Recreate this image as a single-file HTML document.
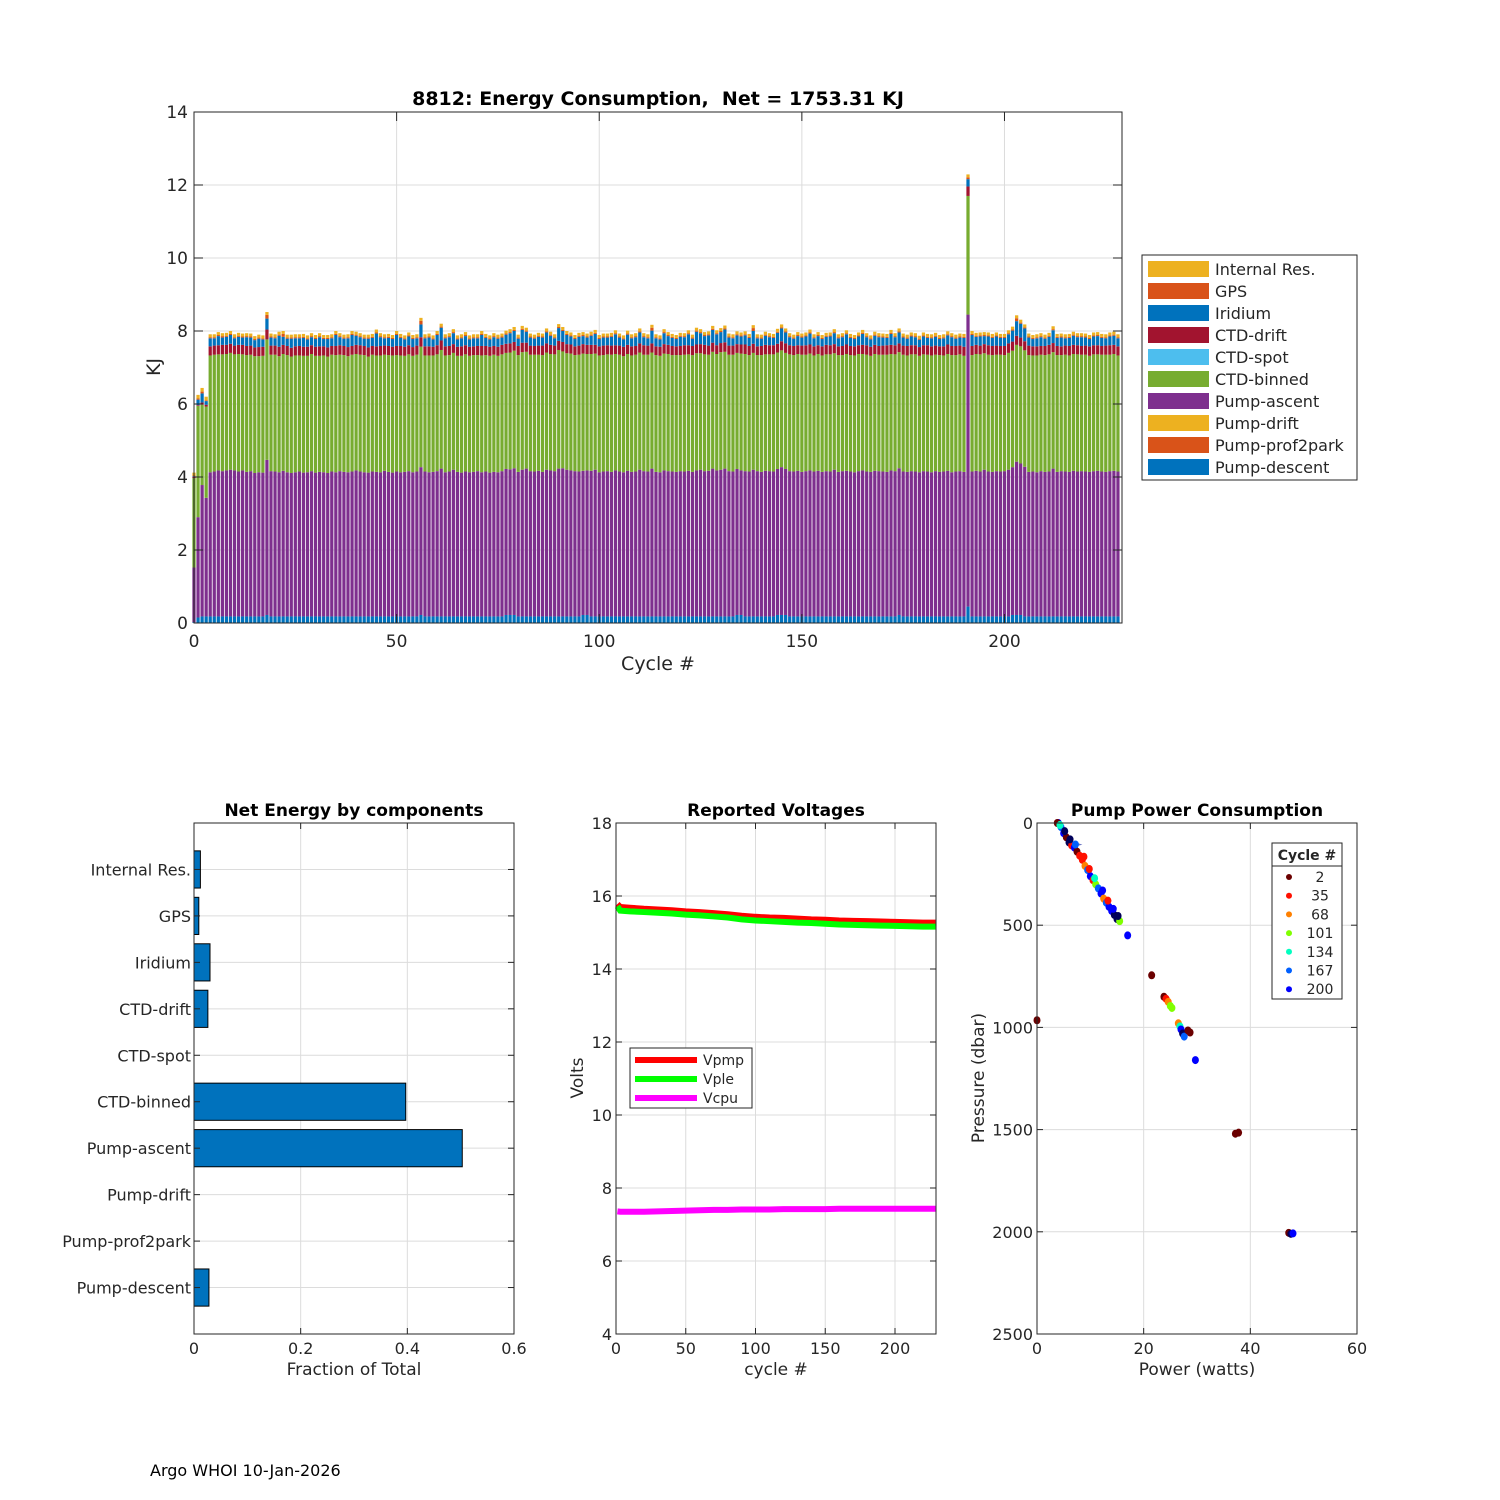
<!DOCTYPE html>
<html><head><meta charset="utf-8">
<style>
html,body{margin:0;padding:0;background:#fff;}
svg{display:block;font-family:"DejaVu Sans","Liberation Sans",sans-serif;}
</style></head>
<body>
<svg id="fig" width="1500" height="1500" viewBox="0 0 1500 1500"></svg>
<script>
// ---------- Top chart data (cycle 0..228) ----------
const cycles = [];
for (let c = 0; c <= 228; c++) cycles.push(c);
const pumpDescent = [0.02,0.15,0.18,0.18,0.18,0.18,0.18,0.18,0.18,0.18,0.18,0.18,0.18,0.18,0.18,0.18,0.18,0.18,0.22,0.18,
0.18,0.18,0.18,0.18,0.18,0.18,0.18,0.18,0.18,0.18,0.18,0.18,0.18,0.18,0.18,0.18,0.18,0.18,0.18,0.18,
0.18,0.18,0.18,0.18,0.18,0.18,0.18,0.18,0.18,0.18,0.18,0.18,0.18,0.18,0.18,0.18,0.22,0.18,0.18,0.18,
0.18,0.18,0.18,0.18,0.18,0.18,0.18,0.18,0.18,0.18,0.18,0.18,0.18,0.18,0.18,0.18,0.18,0.22,0.22,0.22,
0.18,0.18,0.18,0.18,0.18,0.18,0.18,0.18,0.18,0.18,0.18,0.18,0.18,0.18,0.18,0.18,0.22,0.22,0.18,0.18,
0.18,0.18,0.18,0.18,0.18,0.18,0.18,0.18,0.18,0.18,0.18,0.18,0.18,0.18,0.18,0.18,0.18,0.18,0.18,0.18,
0.18,0.18,0.18,0.18,0.18,0.18,0.18,0.18,0.18,0.18,0.18,0.18,0.18,0.18,0.22,0.22,0.18,0.18,0.18,0.18,
0.18,0.18,0.18,0.18,0.22,0.22,0.22,0.18,0.18,0.18,0.18,0.18,0.18,0.18,0.18,0.18,0.18,0.18,0.18,0.18,
0.18,0.18,0.18,0.18,0.18,0.18,0.18,0.18,0.18,0.18,0.18,0.18,0.18,0.18,0.22,0.18,0.18,0.18,0.18,0.18,
0.18,0.18,0.18,0.18,0.18,0.18,0.18,0.18,0.18,0.18,0.18,0.45,0.18,0.18,0.18,0.18,0.18,0.18,0.18,0.18,
0.18,0.18,0.22,0.22,0.22,0.18,0.18,0.18,0.18,0.18,0.18,0.18,0.18,0.18,0.18,0.18,0.18,0.18,0.18,0.18,
0.18,0.18,0.18,0.18,0.18,0.18,0.18,0.18,0.18];
const pumpAscent = [1.5,2.75,3.6,3.25,3.95,3.97,4.0,3.98,4.0,4.02,4.0,3.97,4.0,3.96,3.98,3.93,3.95,3.94,4.25,3.98,
3.97,3.95,3.99,3.95,3.93,3.95,3.97,3.94,3.95,3.98,3.94,3.96,3.95,3.93,3.97,3.95,3.98,3.96,3.95,3.97,
4.0,3.97,3.95,3.94,3.97,3.96,3.95,3.99,3.96,3.94,3.97,3.95,3.96,3.98,3.95,3.97,4.05,3.97,3.95,3.96,
3.98,4.05,3.95,3.97,4.02,3.96,3.94,3.97,3.95,3.96,3.98,3.95,3.97,3.94,3.96,3.95,3.98,4.0,3.99,4.02,
3.96,4.02,4.05,3.98,3.97,3.99,3.96,4.02,4.0,3.98,4.05,4.06,4.02,4.0,3.98,3.97,3.95,3.96,3.99,4.02,
3.95,3.97,3.98,3.96,4.0,3.97,3.95,3.99,3.96,3.97,4.02,3.98,3.97,4.05,3.96,3.95,4.0,3.98,3.97,3.96,
3.98,3.97,3.99,3.96,4.0,4.02,3.98,3.99,4.05,4.0,4.02,4.05,3.98,3.97,4.0,3.96,3.98,3.97,4.02,3.98,
3.96,3.99,3.98,3.97,4.0,4.05,4.0,3.98,3.97,3.99,3.96,3.98,4.0,3.97,3.99,3.96,3.98,3.97,4.02,3.96,
3.98,3.99,3.97,3.95,3.98,4.0,3.97,3.96,3.99,3.98,3.97,3.96,4.0,3.98,4.02,3.97,3.96,3.98,3.97,3.95,
3.98,3.97,3.95,3.98,3.96,3.97,3.99,3.95,3.97,3.98,3.96,8.0,3.97,3.99,3.97,4.02,3.97,3.96,3.98,3.97,
3.98,4.02,4.05,4.2,4.15,4.1,3.96,3.97,3.95,3.98,3.96,3.97,4.05,3.96,3.98,3.97,3.96,3.99,3.97,3.98,
3.97,3.96,3.98,3.99,3.97,3.96,3.98,3.99,3.97];
const ctdBinned = [2.45,3.05,2.2,2.5,3.2,3.2,3.18,3.2,3.19,3.2,3.18,3.22,3.18,3.2,3.19,3.2,3.18,3.2,3.3,3.19,
3.2,3.18,3.2,3.21,3.19,3.2,3.18,3.2,3.19,3.21,3.2,3.18,3.2,3.19,3.2,3.21,3.19,3.2,3.18,3.2,
3.19,3.2,3.21,3.18,3.2,3.19,3.2,3.18,3.2,3.21,3.19,3.2,3.18,3.2,3.19,3.2,3.3,3.18,3.2,3.19,
3.2,3.25,3.2,3.19,3.2,3.18,3.2,3.21,3.19,3.2,3.18,3.2,3.19,3.2,3.21,3.19,3.2,3.18,3.2,3.22,
3.2,3.22,3.2,3.19,3.2,3.18,3.2,3.21,3.19,3.2,3.25,3.2,3.19,3.2,3.18,3.2,3.21,3.19,3.2,3.18,
3.2,3.19,3.2,3.21,3.19,3.2,3.18,3.2,3.19,3.2,3.21,3.19,3.2,3.18,3.2,3.19,3.2,3.21,3.19,3.2,
3.18,3.2,3.19,3.2,3.21,3.19,3.2,3.18,3.2,3.19,3.22,3.2,3.19,3.2,3.18,3.2,3.21,3.19,3.2,3.18,
3.2,3.19,3.2,3.21,3.19,3.2,3.18,3.2,3.19,3.2,3.21,3.19,3.2,3.18,3.2,3.19,3.2,3.21,3.19,3.2,
3.18,3.2,3.19,3.2,3.21,3.19,3.2,3.18,3.2,3.19,3.2,3.21,3.19,3.2,3.18,3.2,3.19,3.2,3.21,3.19,
3.2,3.2,3.2,3.19,3.2,3.18,3.2,3.21,3.19,3.2,3.18,3.25,3.19,3.2,3.21,3.19,3.2,3.2,3.19,3.2,
3.18,3.2,3.19,3.2,3.21,3.19,3.2,3.18,3.2,3.19,3.2,3.21,3.19,3.2,3.18,3.2,3.19,3.2,3.21,3.19,
3.2,3.18,3.2,3.19,3.2,3.21,3.19,3.2,3.18];
const ctdDrift = [0.03,0.02,0.06,0.05,0.25,0.25,0.25,0.26,0.25,0.25,0.24,0.25,0.26,0.25,0.25,0.24,0.25,0.25,0.27,0.25,
0.25,0.26,0.25,0.25,0.24,0.25,0.26,0.25,0.25,0.24,0.25,0.26,0.25,0.25,0.24,0.25,0.26,0.25,0.25,0.24,
0.25,0.26,0.25,0.25,0.24,0.25,0.26,0.25,0.25,0.24,0.25,0.26,0.25,0.25,0.24,0.25,0.26,0.25,0.25,0.24,
0.25,0.26,0.25,0.25,0.24,0.25,0.26,0.25,0.25,0.24,0.25,0.26,0.25,0.25,0.24,0.25,0.26,0.25,0.25,0.24,
0.25,0.26,0.25,0.25,0.24,0.25,0.26,0.25,0.25,0.24,0.25,0.26,0.25,0.25,0.24,0.25,0.26,0.25,0.25,0.24,
0.25,0.26,0.25,0.25,0.24,0.25,0.26,0.25,0.25,0.24,0.25,0.26,0.25,0.25,0.24,0.25,0.26,0.25,0.25,0.24,
0.25,0.26,0.25,0.25,0.24,0.25,0.26,0.25,0.25,0.24,0.25,0.26,0.25,0.25,0.24,0.25,0.26,0.25,0.25,0.24,
0.25,0.26,0.25,0.25,0.24,0.25,0.26,0.25,0.25,0.24,0.25,0.26,0.25,0.25,0.24,0.25,0.26,0.25,0.25,0.24,
0.25,0.26,0.25,0.25,0.24,0.25,0.26,0.25,0.25,0.24,0.25,0.26,0.25,0.25,0.24,0.25,0.26,0.25,0.25,0.24,
0.25,0.26,0.25,0.25,0.24,0.25,0.26,0.25,0.25,0.24,0.25,0.26,0.25,0.25,0.24,0.25,0.26,0.25,0.25,0.24,
0.25,0.26,0.25,0.25,0.24,0.25,0.26,0.25,0.25,0.24,0.25,0.26,0.25,0.25,0.24,0.25,0.26,0.25,0.25,0.24,
0.25,0.26,0.25,0.25,0.24,0.25,0.26,0.25,0.25];
const ctdSpot = cycles.map(() => 0);
const iridium = [0.02,0.15,0.25,0.1,0.22,0.2,0.25,0.2,0.22,0.24,0.2,0.22,0.2,0.24,0.22,0.2,0.23,0.2,0.3,0.22,
0.2,0.3,0.22,0.2,0.25,0.22,0.21,0.24,0.2,0.22,0.21,0.25,0.2,0.23,0.21,0.3,0.22,0.2,0.24,0.3,
0.25,0.22,0.2,0.24,0.22,0.35,0.24,0.2,0.22,0.21,0.3,0.22,0.2,0.24,0.22,0.2,0.35,0.22,0.24,0.2,
0.28,0.35,0.22,0.24,0.3,0.2,0.22,0.25,0.2,0.22,0.21,0.3,0.22,0.2,0.24,0.22,0.2,0.25,0.28,0.3,
0.2,0.35,0.3,0.22,0.2,0.24,0.22,0.3,0.25,0.2,0.35,0.3,0.25,0.22,0.2,0.24,0.22,0.2,0.25,0.3,
0.2,0.22,0.21,0.24,0.3,0.22,0.2,0.28,0.22,0.24,0.3,0.22,0.2,0.35,0.22,0.2,0.3,0.24,0.22,0.2,
0.25,0.22,0.3,0.2,0.35,0.3,0.24,0.28,0.35,0.3,0.3,0.35,0.22,0.2,0.24,0.22,0.25,0.22,0.35,0.22,
0.2,0.25,0.22,0.2,0.3,0.35,0.3,0.22,0.2,0.25,0.22,0.24,0.3,0.22,0.25,0.2,0.22,0.24,0.3,0.22,
0.24,0.28,0.22,0.2,0.24,0.3,0.22,0.2,0.25,0.24,0.22,0.2,0.3,0.22,0.3,0.22,0.2,0.24,0.22,0.2,
0.24,0.2,0.22,0.24,0.2,0.22,0.25,0.24,0.2,0.22,0.24,0.2,0.3,0.22,0.25,0.22,0.24,0.22,0.25,0.22,
0.22,0.25,0.3,0.4,0.38,0.35,0.22,0.2,0.22,0.24,0.2,0.22,0.35,0.22,0.24,0.2,0.22,0.25,0.22,0.24,
0.22,0.2,0.24,0.25,0.22,0.2,0.24,0.25,0.22];
const gps = [0.02,0.03,0.05,0.02,0.03,0.03,0.03,0.04,0.03,0.03,0.03,0.03,0.03,0.03,0.03,0.03,0.03,0.03,0.1,0.03,
0.03,0.03,0.08,0.03,0.03,0.03,0.03,0.03,0.03,0.03,0.03,0.03,0.03,0.03,0.03,0.03,0.03,0.03,0.03,0.03,
0.03,0.03,0.03,0.03,0.03,0.03,0.03,0.03,0.03,0.03,0.03,0.03,0.03,0.03,0.03,0.03,0.1,0.03,0.03,0.03,
0.03,0.03,0.03,0.03,0.03,0.03,0.03,0.03,0.03,0.03,0.03,0.03,0.03,0.03,0.03,0.03,0.03,0.03,0.03,0.03,
0.03,0.03,0.03,0.03,0.03,0.03,0.03,0.03,0.03,0.03,0.03,0.03,0.03,0.03,0.03,0.03,0.03,0.03,0.03,0.03,
0.03,0.03,0.03,0.03,0.03,0.03,0.03,0.03,0.03,0.03,0.03,0.03,0.03,0.08,0.03,0.03,0.03,0.03,0.03,0.03,
0.03,0.03,0.03,0.03,0.03,0.03,0.03,0.03,0.03,0.03,0.03,0.03,0.03,0.03,0.03,0.03,0.03,0.03,0.08,0.03,
0.03,0.03,0.03,0.03,0.03,0.03,0.03,0.03,0.03,0.03,0.03,0.03,0.03,0.03,0.03,0.03,0.03,0.03,0.03,0.03,
0.03,0.03,0.03,0.03,0.03,0.03,0.03,0.03,0.03,0.03,0.03,0.03,0.03,0.03,0.03,0.03,0.03,0.03,0.03,0.03,
0.03,0.03,0.03,0.03,0.03,0.03,0.03,0.03,0.03,0.03,0.03,0.05,0.03,0.03,0.03,0.03,0.03,0.03,0.03,0.03,
0.03,0.03,0.03,0.08,0.03,0.03,0.03,0.03,0.03,0.03,0.03,0.03,0.03,0.03,0.03,0.03,0.03,0.03,0.03,0.03,
0.03,0.03,0.03,0.03,0.03,0.03,0.03,0.03,0.03];
const internalRes = cycles.map((c, i) => [0.08,0.1,0.1,0.1][i] !== undefined ? [0.08,0.1,0.1,0.1][i] : 0.08);
const pumpDrift = cycles.map(() => 0);
const pumpProf2park = cycles.map(() => 0);
const topTicksX = [0,50,100,150,200];
const topTicksY = [0,2,4,6,8,10,12,14];

// ---------- Bottom-left bar data ----------
const compNames = ["Internal Res.","GPS","Iridium","CTD-drift","CTD-spot","CTD-binned","Pump-ascent","Pump-drift","Pump-prof2park","Pump-descent"];
const compFrac = [0.012,0.009,0.03,0.026,0,0.397,0.503,0,0,0.028];
const fracTicks = [0,0.2,0.4,0.6];

// ---------- Voltages ----------
const vCycles = [1,3,10,20,30,40,50,60,70,80,90,100,110,120,130,140,150,160,170,180,190,200,210,220,229];
const vPmp = [15.78,15.7,15.68,15.65,15.63,15.61,15.58,15.56,15.53,15.5,15.46,15.43,15.41,15.4,15.38,15.36,15.35,15.33,15.32,15.31,15.3,15.29,15.28,15.27,15.27];
const vPle = [15.72,15.6,15.58,15.56,15.54,15.52,15.49,15.47,15.44,15.41,15.36,15.33,15.31,15.29,15.27,15.26,15.24,15.22,15.21,15.2,15.19,15.18,15.17,15.16,15.16];
const vCpu = [7.36,7.35,7.35,7.35,7.36,7.37,7.38,7.39,7.4,7.4,7.41,7.41,7.41,7.42,7.42,7.42,7.42,7.43,7.43,7.43,7.43,7.43,7.43,7.43,7.43];
const voltTicksX = [0,50,100,150,200];
const voltTicksY = [4,6,8,10,12,14,16,18];

// ---------- Pump power scatter ----------
const pwPower = [4,4.5,5,5.5,6,6.5,7,7.5,8,8.5,9,9.5,10,10.5,11,11.5,12,12.5,13,13.5,14,14.5,15,15.5,3.8,4.3,5.2,6.2,7.2,8.8,9.8,10.8,12.3,13.3,14.3,15.2,17,21.5,23.8,24.2,24.6,25,25.3,26.5,26.8,27,27.3,27.6,28.3,28.7,29.7,37.2,37.8,47.2,47.6,48,0];
const pwPressure = [0,20,50,70,95,110,120,140,160,180,210,230,260,280,300,320,345,370,390,410,430,450,470,480,0,10,40,80,105,165,225,270,330,380,420,455,550,745,850,860,875,895,905,980,995,1010,1030,1045,1015,1025,1160,1520,1515,2005,2010,2008,965];
const pwCycle = [200,167,200,2,210,35,200,2,35,35,68,167,200,35,101,167,200,68,167,200,200,210,210,101,2,134,210,210,167,35,35,134,200,35,200,210,200,2,2,35,68,101,101,68,134,200,210,167,2,2,200,2,2,2,210,200,2];
const legendCycles = [2,35,68,101,134,167,200];
const pwTicksX = [0,20,40,60];
const pwTicksY = [0,500,1000,1500,2000,2500];

// ---------- drawing ----------
const NS = "http://www.w3.org/2000/svg";
const svg = document.getElementById("fig");
function mk(tag, attrs, parent) {
  const e = document.createElementNS(NS, tag);
  for (const k in attrs) e.setAttribute(k, attrs[k]);
  (parent || svg).appendChild(e);
  return e;
}
function txt(s, x, y, size, anchor, weight, parent) {
  const t = mk("text", {x: x, y: y, "font-size": size, "text-anchor": anchor || "middle", fill: "#262626", "font-weight": weight || "normal"}, parent);
  t.textContent = s;
  return t;
}
const GRID = "#dcdcdc", AX = "#262626";

// ===== Top chart =====
{
  const L = 194, R = 1122, T = 112, B = 623;
  const xs = v => L + (v / 229) * (R - L);
  const ys = v => B - (v / 14) * (B - T);
  const g = mk("g", {});
  
  
  topTicksX.forEach(v => { mk("line", {x1: xs(v), x2: xs(v), y1: T, y2: B, stroke: GRID}, g); });
  topTicksY.forEach(v => { mk("line", {x1: L, x2: R, y1: ys(v), y2: ys(v), stroke: GRID}, g); });
  const series = [
    [pumpDescent, "#0072bd", "pump-descent"], [pumpProf2park, "#d95319", "pump-prof2park"], [pumpDrift, "#edb120", "pump-drift"],
    [pumpAscent, "#7e2f8e", "pump-ascent"], [ctdBinned, "#77ac30", "ctd-binned"], [ctdSpot, "#4dbeee", "ctd-spot"],
    [ctdDrift, "#a2142f", "ctd-drift"], [iridium, "#0072bd", "iridium"], [gps, "#d95319", "gps"], [internalRes, "#edb120", "internal-res"]
  ];
  const bw = 0.8;
  cycles.forEach((c, i) => {
    let acc = 0;
    series.forEach(s => {
      const v = s[0][i];
      if (v > 0) {
        const r = mk("rect", {x: xs(c - bw / 2), width: xs(bw) - L, y: ys(acc + v), height: ys(acc) - ys(acc + v), fill: s[1]}, g);
        
        
      }
      acc += v;
    });
  });
  mk("rect", {x: L, y: T, width: R - L, height: B - T, fill: "none", stroke: AX}, g);
  topTicksX.forEach(v => {
    mk("line", {x1: xs(v), x2: xs(v), y1: B, y2: B - 9, stroke: AX}, g);
    mk("line", {x1: xs(v), x2: xs(v), y1: T, y2: T + 9, stroke: AX}, g);
    txt(String(v), xs(v), B + 24, 17, "middle", null, g);
  });
  topTicksY.forEach(v => {
    mk("line", {x1: L, x2: L + 9, y1: ys(v), y2: ys(v), stroke: AX}, g);
    mk("line", {x1: R, x2: R - 9, y1: ys(v), y2: ys(v), stroke: AX}, g);
    txt(String(v), L - 6, ys(v) + 6, 17, "end", null, g);
  });
  const t = txt("8812: Energy Consumption,  Net = 1753.31 KJ", (L + R) / 2, 105, 19, "middle", "bold");
   
  t.setAttribute("xml:space", "preserve"); t.style.whiteSpace = "pre"; t.setAttribute("fill", "#000");
  const xl = txt("Cycle #", (L + R) / 2, 670, 19);
   
  const yl = txt("KJ", 0, 0, 19);
  yl.setAttribute("transform", "translate(160 367) rotate(-90)");
   
  // legend
  const lg = mk("g", {});
   
  mk("rect", {x: 1142, y: 255, width: 215, height: 225, fill: "#fff", stroke: AX}, lg);
  const legItems = [["Internal Res.", "#edb120"], ["GPS", "#d95319"], ["Iridium", "#0072bd"], ["CTD-drift", "#a2142f"], ["CTD-spot", "#4dbeee"], ["CTD-binned", "#77ac30"], ["Pump-ascent", "#7e2f8e"], ["Pump-drift", "#edb120"], ["Pump-prof2park", "#d95319"], ["Pump-descent", "#0072bd"]];
  legItems.forEach((it, i) => {
    const y = 269 + i * 22;
    const e = mk("g", {}, lg);
     
    mk("rect", {x: 1148, y: y - 8, width: 61, height: 16, fill: it[1]}, e);
    txt(it[0], 1215, y + 6, 16, "start", null, e);
  });
}

// ===== Bottom-left horizontal bars =====
{
  const L = 194, R = 514, T = 823, B = 1334;
  const xs = v => L + (v / 0.6) * (R - L);
  const ys = i => T + ((i + 1) / 11) * (B - T);
  const g = mk("g", {});
   
  fracTicks.forEach(v => mk("line", {x1: xs(v), x2: xs(v), y1: T, y2: B, stroke: GRID}, g));
  compNames.forEach((n, i) => mk("line", {x1: L, x2: R, y1: ys(i), y2: ys(i), stroke: GRID}, g));
  const bh = 0.8 * (B - T) / 11;
  compNames.forEach((n, i) => {
    if (compFrac[i] > 0) {
      const r = mk("rect", {x: L, y: ys(i) - bh / 2, width: xs(compFrac[i]) - L, height: bh, fill: "#0072bd", stroke: "#000", "stroke-width": 1}, g);
      
      
    }
    mk("line", {x1: L, x2: L + 6, y1: ys(i), y2: ys(i), stroke: AX}, g);
    mk("line", {x1: R, x2: R - 6, y1: ys(i), y2: ys(i), stroke: AX}, g);
    txt(n, L - 3, ys(i) + 6, 16, "end", null, g);
  });
  mk("rect", {x: L, y: T, width: R - L, height: B - T, fill: "none", stroke: AX}, g);
  fracTicks.forEach(v => {
    mk("line", {x1: xs(v), x2: xs(v), y1: B, y2: B - 6, stroke: AX}, g);
    mk("line", {x1: xs(v), x2: xs(v), y1: T, y2: T + 6, stroke: AX}, g);
    txt(String(v), xs(v), B + 20, 16, "middle", null, g);
  });
  const tt = txt("Net Energy by components", (L + R) / 2, 816, 17, "middle", "bold", g);
  tt.setAttribute("fill", "#000");
  txt("Fraction of Total", (L + R) / 2, 1375, 17, "middle", null, g);
}

// ===== Voltages =====
{
  const L = 616, R = 936, T = 823, B = 1334;
  const xs = v => L + (v / 229.4) * (R - L);
  const ys = v => B - ((v - 4) / 14) * (B - T);
  const g = mk("g", {});
   
  voltTicksX.forEach(v => mk("line", {x1: xs(v), x2: xs(v), y1: T, y2: B, stroke: GRID}, g));
  voltTicksY.forEach(v => mk("line", {x1: L, x2: R, y1: ys(v), y2: ys(v), stroke: GRID}, g));
  [[vPmp, "#ff0000", "vpmp-line"], [vPle, "#00ff00", "vple-line"], [vCpu, "#ff00ff", "vcpu-line"]].forEach(s => {
    const p = mk("polyline", {points: vCycles.map((c, i) => xs(c) + "," + ys(s[0][i])).join(" "), fill: "none", stroke: s[1], "stroke-width": 6}, g);
     
  });
  mk("rect", {x: L, y: T, width: R - L, height: B - T, fill: "none", stroke: AX}, g);
  voltTicksX.forEach(v => {
    mk("line", {x1: xs(v), x2: xs(v), y1: B, y2: B - 6, stroke: AX}, g);
    mk("line", {x1: xs(v), x2: xs(v), y1: T, y2: T + 6, stroke: AX}, g);
    txt(String(v), xs(v), B + 20, 16, "middle", null, g);
  });
  voltTicksY.forEach(v => {
    mk("line", {x1: L, x2: L + 6, y1: ys(v), y2: ys(v), stroke: AX}, g);
    mk("line", {x1: R, x2: R - 6, y1: ys(v), y2: ys(v), stroke: AX}, g);
    txt(String(v), L - 4, ys(v) + 6, 16, "end", null, g);
  });
  const tt = txt("Reported Voltages", (L + R) / 2, 816, 17, "middle", "bold", g);
  tt.setAttribute("fill", "#000");
  txt("cycle #", (L + R) / 2, 1375, 17, "middle", null, g);
  const yl = txt("Volts", 0, 0, 17, "middle", null, g);
  yl.setAttribute("transform", "translate(583 1078) rotate(-90)");
  const lg = mk("g", {});
   
  mk("rect", {x: 630, y: 1048, width: 122, height: 60, fill: "#fff", stroke: AX}, lg);
  [["Vpmp", "#ff0000"], ["Vple", "#00ff00"], ["Vcpu", "#ff00ff"]].forEach((it, i) => {
    const y = 1060 + i * 19;
    mk("line", {x1: 635, x2: 697, y1: y, y2: y, stroke: it[1], "stroke-width": 6}, lg);
    txt(it[0], 703, y + 5, 14, "start", null, lg);
  });
}

// ===== Pump power scatter =====
{
  const L = 1037, R = 1357, T = 823, B = 1334;
  const xs = v => L + (v / 60) * (R - L);
  const ys = v => T + (v / 2500) * (B - T);
  const colorOf = c => c <= 2 ? "#6b0000" : c <= 35 ? "#ff1000" : c <= 68 ? "#ff8000" : c <= 101 ? "#80ff00" : c <= 134 ? "#00ffc0" : c <= 167 ? "#0060ff" : c <= 200 ? "#0000ff" : "#00005a";
  const g = mk("g", {});
   
  pwTicksX.forEach(v => mk("line", {x1: xs(v), x2: xs(v), y1: T, y2: B, stroke: GRID}, g));
  pwTicksY.forEach(v => mk("line", {x1: L, x2: R, y1: ys(v), y2: ys(v), stroke: GRID}, g));
  const trail = [];
  pwPower.forEach((p, i) => { if (pwPressure[i] <= 480 && p > 3.9) trail.push([p, pwPressure[i]]); });
  trail.sort((a, b) => a[1] - b[1]);
  mk("polyline", {points: trail.map(t => xs(t[0]) + "," + ys(t[1])).join(" "), fill: "none", stroke: "#0a1a9a", "stroke-width": 4, opacity: 0.6}, g);
  pwPower.forEach((p, i) => {
    const e = mk("ellipse", {cx: xs(p), cy: ys(pwPressure[i]), rx: 3.5, ry: 4, fill: colorOf(pwCycle[i])}, g);
     
  });
  mk("rect", {x: L, y: T, width: R - L, height: B - T, fill: "none", stroke: AX}, g);
  pwTicksX.forEach(v => {
    mk("line", {x1: xs(v), x2: xs(v), y1: B, y2: B - 6, stroke: AX}, g);
    mk("line", {x1: xs(v), x2: xs(v), y1: T, y2: T + 6, stroke: AX}, g);
    txt(String(v), xs(v), B + 20, 16, "middle", null, g);
  });
  pwTicksY.forEach(v => {
    mk("line", {x1: L, x2: L + 6, y1: ys(v), y2: ys(v), stroke: AX}, g);
    mk("line", {x1: R, x2: R - 6, y1: ys(v), y2: ys(v), stroke: AX}, g);
    txt(String(v), L - 4, ys(v) + 6, 16, "end", null, g);
  });
  const tt = txt("Pump Power Consumption", (L + R) / 2, 816, 17, "middle", "bold", g);
  tt.setAttribute("fill", "#000");
  txt("Power (watts)", (L + R) / 2, 1375, 17, "middle", null, g);
  const yl = txt("Pressure (dbar)", 0, 0, 17, "middle", null, g);
  yl.setAttribute("transform", "translate(984 1078) rotate(-90)");
  const lg = mk("g", {});
   
  mk("rect", {x: 1272, y: 843, width: 70, height: 156, fill: "#fff", stroke: AX}, lg);
  mk("line", {x1: 1272, x2: 1342, y1: 866, y2: 866, stroke: AX}, lg);
  txt("Cycle #", 1307, 860, 14, "middle", "bold", lg);
  legendCycles.forEach((c, i) => {
    const y = 877 + i * 18.7;
    mk("circle", {cx: 1289, cy: y, r: 3, fill: colorOf(c)}, lg);
    txt(String(c), 1320, y + 5, 14, "middle", null, lg);
  });
}

const foot = txt("Argo WHOI 10-Jan-2026", 150, 1476, 16, "start");
 
foot.setAttribute("fill", "#000");
</script>
</body></html>
